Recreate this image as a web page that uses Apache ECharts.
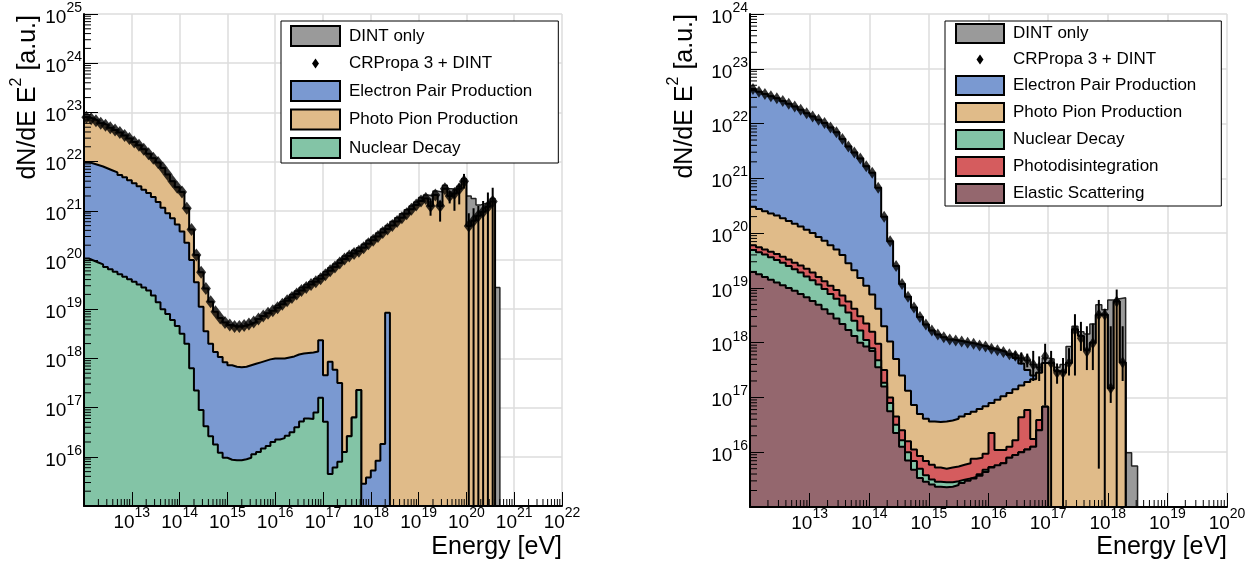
<!DOCTYPE html>
<html>
<head>
<meta charset="utf-8">
<title>Photon spectra by interaction process</title>
<script src="https://cdn.jsdelivr.net/npm/echarts@6.0.0/dist/echarts.min.js"></script>
<style>
  html, body { margin: 0; padding: 0; background: #ffffff; }
  #chart { width: 1257px; height: 568px; }
</style>
</head>
<body>
<div id="chart"></div>
<script>
// Spectra are binned in 0.1 decades of energy, starting at 10^12 eV.
// Each level is the decimal exponent of dN/dE E^2 [a.u.].
// Stacked layers are given by the upper edge of each layer; null = empty bin.

const BIN_START = 12;   // log10(E / eV) of the first bin edge
const BIN_WIDTH = 0.1;  // bin width in decades

// ---------------- left panel ----------------
const leftXRange = [12, 22];
const leftYRange = [15, 25];
const leftBinCount = 87;

const leftDintOnly = [
  22.9, 22.87, 22.83, 22.78, 22.74, 22.69, 22.64, 22.59, 22.53, 22.47,
  22.4, 22.33, 22.25, 22.16, 22.07, 21.98, 21.87, 21.74, 21.6, 21.48,
  21.38, 21.05, 20.62, 20.1, 19.75, 19.42, 19.15, 18.95, 18.82, 18.73,
  18.68, 18.65, 18.65, 18.67, 18.7, 18.74, 18.8, 18.86, 18.92, 18.97,
  19.08, 19.15, 19.22, 19.3, 19.37, 19.44, 19.5, 19.56, 19.62, 19.68,
  19.76, 19.84, 19.92, 20.0, 20.08, 20.14, 20.2, 20.25, 20.32, 20.4,
  20.47, 20.55, 20.63, 20.7, 20.78, 20.86, 20.94, 21.02, 21.1, 21.18,
  21.27, 21.32, 21.3, 21.4, 21.38, 21.52, 21.45, 21.42, 21.5, 21.65,
  21.3, 21.25, 21.12, 21.15, 21.15, 21.25, 19.44
];

// top of the stack (decay + pair + pion) = CRPropa 3 + DINT total
const leftPhotoPionTop = [
  22.9, 22.87, 22.83, 22.78, 22.74, 22.69, 22.64, 22.59, 22.53, 22.47,
  22.4, 22.33, 22.25, 22.16, 22.07, 21.98, 21.87, 21.74, 21.6, 21.48,
  21.38, 21.05, 20.62, 20.1, 19.75, 19.42, 19.15, 18.95, 18.82, 18.73,
  18.68, 18.65, 18.65, 18.67, 18.7, 18.74, 18.8, 18.86, 18.92, 18.97,
  19.03, 19.1, 19.17, 19.24, 19.31, 19.38, 19.44, 19.5, 19.56, 19.62,
  19.7, 19.78, 19.86, 19.94, 20.02, 20.08, 20.13, 20.18, 20.25, 20.33,
  20.4, 20.48, 20.56, 20.63, 20.7, 20.78, 20.86, 20.94, 21.03, 21.12,
  21.2, 21.25, 21.1, 21.32, 21.1, 21.45, 21.3, 21.35, 21.45, 21.6,
  20.69, 20.8, 20.9, 20.98, 21.08, 21.19, null
];

const leftPairTop = [
  21.99, 21.96, 21.93, 21.9, 21.86, 21.82, 21.78, 21.73, 21.68, 21.62,
  21.56, 21.5, 21.43, 21.36, 21.28, 21.18, 21.06, 20.95, 20.85, 20.72,
  20.58, 20.35, 20.0, 19.55, 19.05, 18.55, 18.3, 18.13, 18.03, 17.92,
  17.86, 17.83, 17.82, 17.83, 17.86, 17.89, 17.92, 17.95, 17.98, 18.0,
  18.0, 18.0, 18.02, 18.04, 18.08, 18.1, 18.11, 18.12, 18.14, 18.37,
  17.66, 17.93, 17.77, 17.5, 16.1, 16.42, 16.8, 17.36, 15.45, 15.58,
  15.72, 15.92, 16.26, 18.93
];

const leftDecayTop = [
  20.03, 19.99, 19.95, 19.91, 19.86, 19.81, 19.76, 19.71, 19.66, 19.61,
  19.56, 19.5, 19.44, 19.38, 19.28, 19.14, 19.0, 18.9, 18.78, 18.66,
  18.5, 18.3, 17.8, 17.35, 16.95, 16.62, 16.42, 16.25, 16.08, 15.98,
  15.94, 15.93, 15.93, 15.95, 15.98, 16.05, 16.1, 16.17, 16.22, 16.3,
  16.35, 16.38, 16.43, 16.5, 16.6, 16.72, 16.78, 16.77, 16.9, 17.2,
  16.71, 15.65, 15.78, 15.9, 16.1, 16.42, 16.8, 17.36
];

// error bars of the CRPropa 3 + DINT points (null low = below the axis)
const leftErrBins = [72, 74, 76, 77, 78, 79, 80, 81, 82, 83, 84, 85];
const leftErrLow  = [20.9, 20.78, 21.15, 21.0, 21.13, 21.45, null, null, null, null, null, null];
const leftErrHigh = [21.25, 21.2, 21.4, 21.45, 21.55, 21.75, 20.95, 21.05, 21.1, 21.2, 21.37, 21.47];

// ---------------- right panel ----------------
const rightXRange = [12, 20];
const rightYRange = [15, 24];
const rightBinCount = 65;

const rightDintOnly = [
  22.63, 22.58, 22.54, 22.5, 22.46, 22.41, 22.36, 22.31, 22.25, 22.19,
  22.13, 22.07, 22.01, 21.93, 21.84, 21.72, 21.58, 21.47, 21.36, 21.22,
  21.1, 20.83, 20.3, 19.85, 19.4, 19.07, 18.84, 18.64, 18.47, 18.33,
  18.22, 18.15, 18.1, 18.06, 18.04, 18.02, 18.0, 17.98, 17.95, 17.93,
  17.9, 17.87, 17.84, 17.8, 17.77, 17.72, 17.68, 17.6, 17.55, 17.72,
  17.7, 17.55, 17.6, 17.93, 18.3, 18.2, 18.16, 18.34, 18.69, 18.6,
  18.78, 18.8, 18.82, 15.99, 15.75
];

// top of the stack (elastic + decay + photodisintegration + pion + pair)
const rightPairTop = [
  22.63, 22.58, 22.54, 22.5, 22.46, 22.41, 22.36, 22.31, 22.25, 22.19,
  22.13, 22.07, 22.01, 21.93, 21.84, 21.72, 21.58, 21.47, 21.36, 21.22,
  21.1, 20.83, 20.3, 19.85, 19.4, 19.07, 18.84, 18.64, 18.47, 18.33,
  18.22, 18.15, 18.1, 18.06, 18.04, 18.02, 18.0, 17.98, 17.95, 17.93,
  17.89, 17.86, 17.83, 17.78, 17.72, 17.62, 17.5, 17.4, 17.45, 17.63,
  17.63, 17.48, 17.45, 17.63, 18.24, 18.12, 17.86, 18.0, 18.51, 18.51,
  17.17, 18.75, 17.64
];

const rightPhotoPionTop = [
  20.48, 20.44, 20.4, 20.36, 20.32, 20.27, 20.22, 20.17, 20.12, 20.06,
  20.0, 19.93, 19.86, 19.78, 19.7, 19.6, 19.45, 19.32, 19.18, 19.04,
  18.88, 18.62, 18.3, 18.02, 17.7, 17.4, 17.12, 16.86, 16.7, 16.61,
  16.56, 16.55, 16.56, 16.58, 16.61, 16.65, 16.7, 16.74, 16.79, 16.84,
  16.9, 16.96, 17.02, 17.08, 17.15, 17.22, 17.28, 17.33, 17.45, 17.63,
  17.63, 17.48, 17.45, 17.63, 18.24, 18.12, 17.86, 18.0, 18.51, 18.51,
  17.17, 18.75, 17.64
];

const rightPhotodisTop = [
  19.78, 19.74, 19.7, 19.66, 19.62, 19.57, 19.52, 19.46, 19.41, 19.35,
  19.28, 19.2, 19.12, 19.04, 18.96, 18.86, 18.75, 18.62, 18.48, 18.35,
  18.2, 17.98, 17.5, 17.0, 16.65, 16.4, 16.2, 16.05, 15.93, 15.84,
  15.77, 15.72, 15.7, 15.72, 15.74, 15.77, 15.8, 15.88, 15.9, 15.97,
  16.35, 16.04, 16.04, 16.1, 16.22, 16.64, 16.77, 16.24, 16.59, 16.83
];

const rightDecayTop = [
  19.69, 19.65, 19.61, 19.56, 19.51, 19.46, 19.4, 19.34, 19.28, 19.21,
  19.14, 19.06, 18.98, 18.89, 18.8, 18.68, 18.55, 18.4, 18.22, 18.05,
  17.9, 17.68, 17.27, 16.9, 16.5, 16.22, 16.0, 15.84, 15.7, 15.58,
  15.5, 15.46, 15.45, 15.45, 15.47, 15.5, 15.52, 15.55, 15.6, 15.68,
  15.73, 15.76, 15.8, 15.9, 15.95, 16.0, 16.05, 16.1, 16.4, 16.83
];

const rightElasticTop = [
  19.29, 19.25, 19.2, 19.15, 19.1, 19.05, 19.0, 18.95, 18.89, 18.83,
  18.76, 18.69, 18.61, 18.53, 18.44, 18.34, 18.23, 18.12, 18.0, 17.93,
  17.85, 17.55, 17.2, 16.75, 16.35, 16.1, 15.85, 15.68, 15.53, 15.46,
  15.41, 15.37, 15.36, 15.37, 15.4, 15.44, 15.48, 15.52, 15.57, 15.64,
  15.72, 15.76, 15.8, 15.9, 15.95, 16.0, 16.05, 16.1, 16.4, 16.83
];

// CRPropa 3 + DINT points
const rightMarkers = [
  22.63, 22.58, 22.54, 22.5, 22.46, 22.41, 22.36, 22.31, 22.25, 22.19,
  22.13, 22.07, 22.01, 21.93, 21.84, 21.72, 21.58, 21.47, 21.36, 21.22,
  21.1, 20.83, 20.3, 19.85, 19.4, 19.07, 18.84, 18.64, 18.47, 18.33,
  18.22, 18.15, 18.1, 18.06, 18.04, 18.02, 18.0, 17.98, 17.95, 17.93,
  17.89, 17.86, 17.83, 17.79, 17.76, 17.72, 17.69, 17.6, 17.55, 17.75,
  17.63, 17.45, 17.45, 17.63, 18.23, 18.08, 17.84, 17.99, 18.51, 18.51,
  17.17, 18.75, 17.64
];

const rightErrBins = [44, 45, 46, 47, 48, 49, 50, 51, 52, 53, 54, 55, 56, 57, 58, 59, 60, 61, 62];
const rightErrLow  = [17.68, 17.6, 17.55, 17.3, 17.3, 16.85, null, 17.25, null, 17.4, 17.4, 17.85, 17.5, 17.5, 15.7, null, 16.9, null, 17.3];
const rightErrHigh = [17.84, 17.82, 17.8, 17.85, 17.75, 17.98, 17.85, 17.62, 17.72, 17.9, 18.52, 18.38, 18.3, 18.35, 18.78, 18.62, 18.3, 18.97, 18.3];

// ---------------- styling ----------------
const FONT = '"Liberation Sans", Helvetica, Arial, sans-serif';
const COLOR = {
  dint: '#9a9a9a',
  pair: '#7a99d1',
  pion: '#e0bb89',
  decay: '#83c4a6',
  photodis: '#d55c5e',
  elastic: '#94676e'
};
const FLOOR = 10; // exponent far below the axes, used for empty bins

const edge = i => +(BIN_START + i * BIN_WIDTH).toFixed(2);
const center = i => +(BIN_START + (i + 0.5) * BIN_WIDTH).toFixed(3);

function histData(levels, nBins) {
  const pts = [];
  for (let i = 0; i < nBins; i++) {
    const v = levels[i];
    pts.push([edge(i), v == null ? FLOOR : v]);
  }
  pts.push([edge(nBins), FLOOR]);
  return pts;
}

function hist(name, levels, nBins, color, gi, z, lineColor, lineWidth) {
  return {
    type: 'line', name, xAxisIndex: gi, yAxisIndex: gi, z,
    data: histData(levels, nBins),
    step: 'end', symbol: 'none', showSymbol: false, silent: true,
    lineStyle: { color: lineColor || '#000', width: lineWidth || 2 },
    areaStyle: { color, opacity: 1, origin: 'start' },
    itemStyle: { color },
    emphasis: { disabled: true }
  };
}

function markers(levels, gi, size) {
  const data = [];
  levels.forEach((v, i) => { if (v != null) data.push([center(i), v]); });
  return {
    type: 'scatter', name: 'CRPropa 3 + DINT', xAxisIndex: gi, yAxisIndex: gi, z: 10,
    symbol: 'diamond', symbolSize: size, silent: true,
    itemStyle: { color: '#000' }, data
  };
}

function errorBars(bins, low, high, gi, yMin) {
  return {
    type: 'custom', name: 'CRPropa 3 + DINT', xAxisIndex: gi, yAxisIndex: gi, z: 9, silent: true,
    encode: { x: 0, y: [1, 2] },
    data: bins.map((b, k) => [center(b), low[k] == null ? yMin : Math.max(low[k], yMin), high[k]]),
    renderItem(params, api) {
      const p1 = api.coord([api.value(0), api.value(1)]);
      const p2 = api.coord([api.value(0), api.value(2)]);
      return { type: 'line', shape: { x1: p1[0], y1: p1[1], x2: p2[0], y2: p2[1] },
               style: { stroke: '#000', lineWidth: 2 } };
    }
  };
}

// minor ticks at 2..9 x 10^n on both axes of a panel
function minorTicks(gi, xr, yr) {
  const data = [];
  for (let n = xr[0]; n < xr[1]; n++) for (let k = 2; k <= 9; k++) data.push([n + Math.log10(k), yr[0], 0]);
  for (let n = yr[0]; n < yr[1]; n++) for (let k = 2; k <= 9; k++) data.push([xr[0], n + Math.log10(k), 1]);
  return {
    type: 'custom', xAxisIndex: gi, yAxisIndex: gi, z: 25, silent: true, clip: false,
    encode: { x: 0, y: 1 }, data,
    renderItem(params, api) {
      const p = api.coord([api.value(0), api.value(1)]);
      const horiz = api.value(2) === 1;
      return { type: 'line',
        shape: horiz ? { x1: p[0], y1: p[1], x2: p[0] + 7, y2: p[1] }
                     : { x1: p[0], y1: p[1], x2: p[0], y2: p[1] - 7 },
        style: { stroke: '#000', lineWidth: 1 } };
    }
  };
}

const expLabelRich = {
  b: { fontSize: 19, lineHeight: 26, fontFamily: FONT, color: '#000', verticalAlign: 'bottom' },
  s: { fontSize: 14, lineHeight: 17, fontFamily: FONT, color: '#000', verticalAlign: 'top' }
};
const expFormatter = v => '{b|10}{s|' + v + '}';

function backAxis(gi, range, pos) {
  return {
    type: 'value', gridIndex: gi, min: range[0], max: range[1], interval: 1, position: pos, z: 0,
    axisLine: { show: false }, axisTick: { show: false }, axisLabel: { show: false },
    splitLine: { show: true, lineStyle: { color: '#dcdcdc', width: 1.5 } }
  };
}
function frontAxis(gi, range, pos) {
  return {
    type: 'value', gridIndex: gi, min: range[0], max: range[1], interval: 1, position: pos, z: 20,
    axisLine: { show: true, onZero: false, lineStyle: { color: '#000', width: 2 } },
    axisTick: { show: true, inside: true, length: 14, lineStyle: { color: '#000', width: 1 } },
    axisLabel: { show: true, showMinLabel: false, margin: pos === 'bottom' ? 0 : 2,
                 formatter: expFormatter, rich: expLabelRich },
    splitLine: { show: false }
  };
}

function boxItem(name, color) {
  return { name, icon: 'rect', itemStyle: { color, borderColor: '#000', borderWidth: 2 } };
}
const legendCommon = {
  orient: 'vertical', selectedMode: false, z: 30,
  backgroundColor: '#fff', borderColor: '#000', borderWidth: 1, borderRadius: 0,
  textStyle: { fontFamily: FONT, fontSize: 17, color: '#000', lineHeight: 18, padding: [0, 0, 0, 4] }
};

const option = {
  animation: false,
  backgroundColor: '#fff',
  grid: [
    { left: 84, top: 14, width: 478, height: 492 },
    { left: 750, top: 14, width: 477, height: 493 }
  ],
  xAxis: [
    backAxis(0, leftXRange, 'bottom'), backAxis(1, rightXRange, 'bottom'),
    frontAxis(0, leftXRange, 'bottom'), frontAxis(1, rightXRange, 'bottom')
  ],
  yAxis: [
    backAxis(0, leftYRange, 'left'), backAxis(1, rightYRange, 'left'),
    frontAxis(0, leftYRange, 'left'), frontAxis(1, rightYRange, 'left')
  ],
  legend: [
    Object.assign({}, legendCommon, {
      left: 281, top: 21, itemWidth: 49, itemHeight: 20, itemGap: 6.5, padding: [4, 26, 4, 9],
      data: [
        boxItem('DINT only', COLOR.dint),
        { name: 'CRPropa 3 + DINT', icon: 'path://M0,0M49,20M24.5,5L28,10L24.5,15L21,10Z',
          itemStyle: { color: '#000', borderWidth: 0 } },
        boxItem('Electron Pair Production', COLOR.pair),
        boxItem('Photo Pion Production', COLOR.pion),
        boxItem('Nuclear Decay', COLOR.decay)
      ]
    }),
    Object.assign({}, legendCommon, {
      left: 945, top: 21, itemWidth: 48, itemHeight: 19, itemGap: 6, padding: [2, 25, 2, 10],
      data: [
        boxItem('DINT only', COLOR.dint),
        { name: 'CRPropa 3 + DINT', icon: 'path://M0,0M48,19M24,4.5L27.5,9.5L24,14.5L20.5,9.5Z',
          itemStyle: { color: '#000', borderWidth: 0 } },
        boxItem('Electron Pair Production', COLOR.pair),
        boxItem('Photo Pion Production', COLOR.pion),
        boxItem('Nuclear Decay', COLOR.decay),
        boxItem('Photodisintegration', COLOR.photodis),
        boxItem('Elastic Scattering', COLOR.elastic)
      ]
    })
  ],
  graphic: [
    { type: 'text', x: 25, y: 15, rotation: Math.PI / 2,
      style: { text: '{m|dN/dE E}{s|2}{m| [a.u.]}', align: 'right', verticalAlign: 'middle',
               rich: { m: { fontSize: 25, lineHeight: 32, fontFamily: FONT, fill: '#000', verticalAlign: 'bottom' },
                       s: { fontSize: 16, lineHeight: 17, fontFamily: FONT, fill: '#000', verticalAlign: 'top' } } } },
    { type: 'text', x: 682, y: 14, rotation: Math.PI / 2,
      style: { text: '{m|dN/dE E}{s|2}{m| [a.u.]}', align: 'right', verticalAlign: 'middle',
               rich: { m: { fontSize: 25, lineHeight: 32, fontFamily: FONT, fill: '#000', verticalAlign: 'bottom' },
                       s: { fontSize: 16, lineHeight: 17, fontFamily: FONT, fill: '#000', verticalAlign: 'top' } } } },
    { type: 'text', x: 562, y: 547,
      style: { text: 'Energy [eV]', fontSize: 25, fontFamily: FONT, fill: '#000', align: 'right', verticalAlign: 'middle' } },
    { type: 'text', x: 1227, y: 547,
      style: { text: 'Energy [eV]', fontSize: 25, fontFamily: FONT, fill: '#000', align: 'right', verticalAlign: 'middle' } }
  ],
  series: [
    // left panel: gray reference drawn first, then cumulative layers from the top down
    hist('DINT only', leftDintOnly, leftBinCount, COLOR.dint, 0, 2, '#222', 1.5),
    hist('Photo Pion Production', leftPhotoPionTop, leftBinCount, COLOR.pion, 0, 3),
    hist('Electron Pair Production', leftPairTop, leftBinCount, COLOR.pair, 0, 4),
    hist('Nuclear Decay', leftDecayTop, leftBinCount, COLOR.decay, 0, 5),
    errorBars(leftErrBins, leftErrLow, leftErrHigh, 0, leftYRange[0]),
    markers(leftPhotoPionTop, 0, [10, 13]),
    minorTicks(0, leftXRange, leftYRange),

    // right panel
    hist('DINT only', rightDintOnly, rightBinCount, COLOR.dint, 1, 2, '#222', 1.5),
    hist('Electron Pair Production', rightPairTop, rightBinCount, COLOR.pair, 1, 3),
    hist('Photo Pion Production', rightPhotoPionTop, rightBinCount, COLOR.pion, 1, 4),
    hist('Photodisintegration', rightPhotodisTop, rightBinCount, COLOR.photodis, 1, 5),
    hist('Nuclear Decay', rightDecayTop, rightBinCount, COLOR.decay, 1, 6),
    hist('Elastic Scattering', rightElasticTop, rightBinCount, COLOR.elastic, 1, 7),
    errorBars(rightErrBins, rightErrLow, rightErrHigh, 1, rightYRange[0]),
    markers(rightMarkers, 1, [8, 12]),
    minorTicks(1, rightXRange, rightYRange)
  ]
};

const chart = echarts.init(document.getElementById('chart'));
chart.setOption(option);
</script>
</body>
</html>
